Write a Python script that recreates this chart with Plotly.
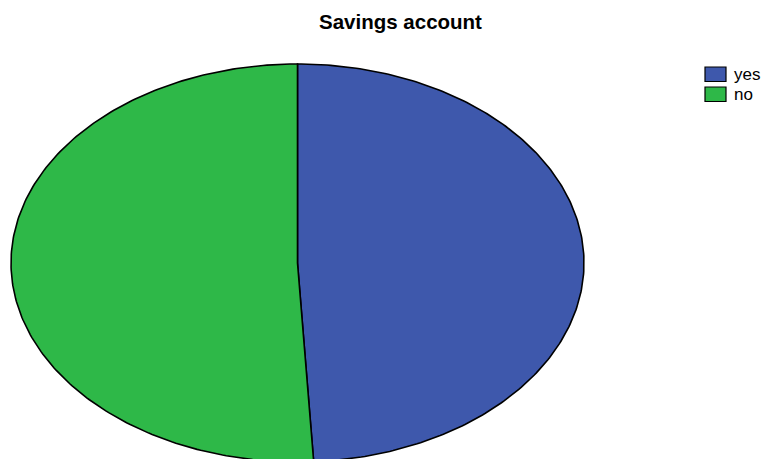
import numpy as np
import plotly.graph_objects as go

# Savings account: share of respondents (%)
categories = ["yes", "no"]
shares = [49.1, 50.9]
colors = ["#3E58AC", "#2EB848"]

W, H = 765, 459
# Ellipse geometry of the pie (pixel space)
cx, cy, rx, ry = 297.5, 263.0, 286.5, 199.0

fig = go.Figure()

total = sum(shares)
start = 0.0
for name, val, col in zip(categories, shares, colors):
    span = 2 * np.pi * val / total
    t = np.linspace(start, start + span, 240)
    xs = np.concatenate([[cx], cx + rx * np.sin(t), [cx]])
    ys = np.concatenate([[cy], cy - ry * np.cos(t), [cy]])
    fig.add_trace(go.Scatter(
        x=xs, y=ys, mode="lines", fill="toself", fillcolor=col,
        line=dict(color="black", width=1.6), name=name, showlegend=False,
        hoveron="fills", hoverinfo="text", text=f"{name}: {val:.1f}%",
    ))
    start += span

# Legend: colour swatches with labels
for i, (name, col) in enumerate(zip(categories, colors)):
    y0 = 67 + i * 20
    fig.add_shape(type="rect", xref="x", yref="y", x0=705, x1=726, y0=y0, y1=y0 + 14.5,
                  fillcolor=col, line=dict(color="black", width=1.2))
    fig.add_annotation(x=732, y=y0 + 7.5, xref="x", yref="y", text=name, showarrow=False,
                       xanchor="left", yanchor="middle",
                       font=dict(family="Liberation Sans, Arial", size=17, color="black"))

fig.update_layout(
    width=W, height=H, margin=dict(l=0, r=0, t=0, b=0),
    paper_bgcolor="white", plot_bgcolor="white",
    title=dict(text="<b>Savings account</b>", x=400.5 / W, xanchor="center",
               y=1 - 22 / H, yanchor="middle",
               font=dict(family="Liberation Sans, Arial", size=20.5, color="black")),
    xaxis=dict(range=[0, W], visible=False, fixedrange=True),
    yaxis=dict(range=[H, 0], visible=False, fixedrange=True),
    showlegend=False,
)

fig.write_html("out.html")
